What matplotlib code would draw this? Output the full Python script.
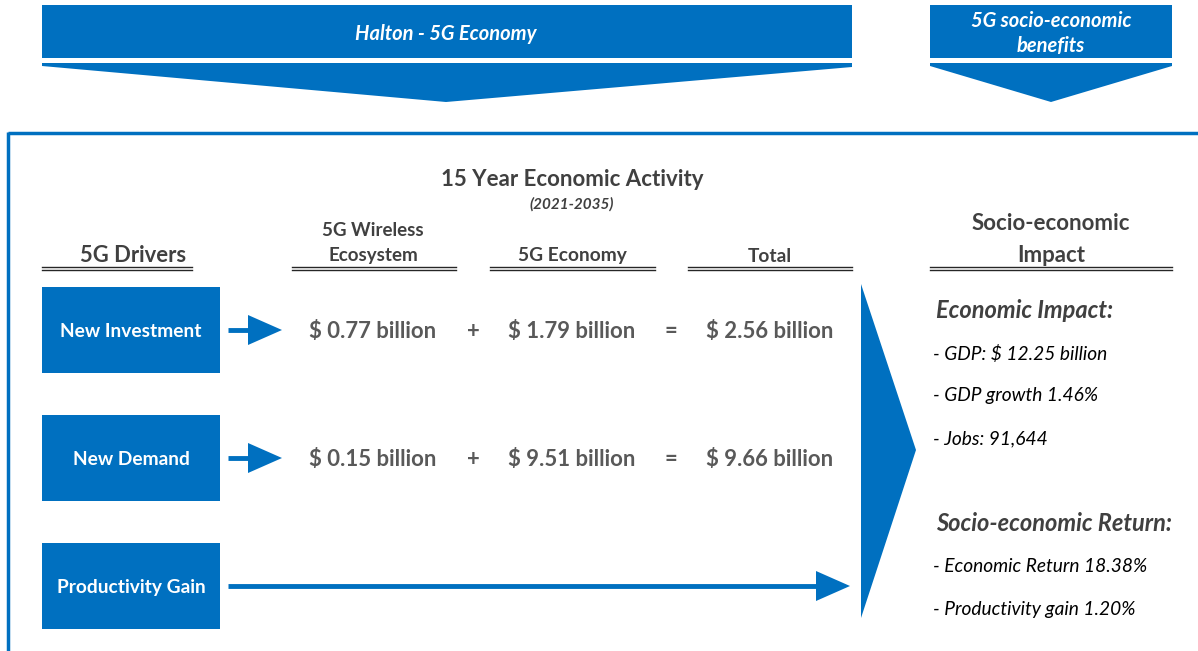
import matplotlib
matplotlib.use("Agg")
import matplotlib.pyplot as plt
from matplotlib.patches import Rectangle, Polygon

plt.rcParams['font.family'] = ['Lato', 'DejaVu Sans']

# ---- data ----
drivers = ["New Investment", "New Demand", "Productivity Gain"]
wireless_vals = ["$ 0.77 billion", "$ 0.15 billion"]
economy_vals = ["$ 1.79 billion", "$ 9.51 billion"]
total_vals = ["$ 2.56 billion", "$ 9.66 billion"]
col_headers = ["5G Drivers", "5G Wireless\nEcosystem", "5G Economy", "Total"]
econ_impact = ["- GDP: $ 12.25 billion", "- GDP growth 1.46%", "- Jobs: 91,644"]
socio_return = ["- Economic Return 18.38%", "- Productivity gain 1.20%"]

BLUE = "#0070C0"
GREY = "#595959"
DARK = "#404040"

fig = plt.figure(figsize=(11.98, 6.51), dpi=100)
ax = fig.add_axes([0, 0, 1, 1])
ax.set_xlim(0, 1198)
ax.set_ylim(651, 0)
ax.axis('off')

# top banners + chevrons
ax.add_patch(Rectangle((42, 5), 810, 53, color=BLUE, lw=0))
ax.add_patch(Polygon([(42, 63), (852, 63), (852, 67), (446, 102), (42, 66)], color=BLUE, lw=0))
ax.text(446, 34, "Halton - 5G Economy", color="white", fontsize=14.5, fontweight="bold",
        style="italic", ha="center", va="center")
ax.add_patch(Rectangle((930, 5), 242, 53, color=BLUE, lw=0))
ax.add_patch(Polygon([(930, 63), (1172, 63), (1172, 66), (1051, 102), (930, 66)], color=BLUE, lw=0))
ax.text(1051, 21, "5G socio-economic", color="white", fontsize=14.5, fontweight="bold",
        style="italic", ha="center", va="center")
ax.text(1051, 46, "benefits", color="white", fontsize=14.5, fontweight="bold",
        style="italic", ha="center", va="center")

# frame
ax.plot([8, 1198], [133, 133], color=BLUE, lw=2.5, solid_capstyle="butt")
ax.plot([8, 8], [132, 651], color=BLUE, lw=2.5, solid_capstyle="butt")

# titles
ax.text(572, 180, "15 Year Economic Activity", color=DARK, fontsize=16, fontweight="bold",
        ha="center", va="center")
ax.text(572, 204, "(2021-2035)", color=DARK, fontsize=11, fontweight="bold", style="italic",
        ha="center", va="center")

def underline(x0, x1):
    ax.plot([x0, x1], [266.5, 266.5], color="#262626", lw=1.0)
    ax.plot([x0, x1], [270, 270], color="#262626", lw=1.0)

col_x = [133, 373, 572, 770]
col_span = [(42, 192), (292, 456), (490, 655), (688, 852)]
col_size = [15.8, 13.5, 13.8, 13.8]
for i, h in enumerate(col_headers):
    lines = h.split("\n")
    for k, line in enumerate(reversed(lines)):
        ax.text(col_x[i], 256 - 26 * k, line, color=DARK, fontsize=col_size[i], fontweight="bold",
                ha="center", va="center")
    underline(*col_span[i])

ax.text(1051, 223, "Socio-economic", color=DARK, fontsize=16, fontweight="bold",
        ha="center", va="center")
ax.text(1051, 255, "Impact", color=DARK, fontsize=16, fontweight="bold",
        ha="center", va="center")
underline(930, 1172)

# driver boxes and arrows
row_y = [330, 458, 586]
for i, d in enumerate(drivers):
    y = row_y[i]
    ax.add_patch(Rectangle((42, y - 43), 178, 86, color=BLUE, lw=0))
    ax.text(131, y + 1.5, d, color="white", fontsize=13.8, fontweight="bold", ha="center", va="center")
    end = 282 if i < 2 else 850
    ax.plot([228, end - 30], [y, y], color=BLUE, lw=3.5, solid_capstyle="butt")
    ax.add_patch(Polygon([(end - 34, y - 15), (end, y), (end - 34, y + 15)], color=BLUE, lw=0))

for i in range(len(wireless_vals)):
    y = row_y[i] + 1.5
    for x, s in zip([373, 473, 572, 671, 770],
                    [wireless_vals[i], "+", economy_vals[i], "=", total_vals[i]]):
        ax.text(x, y, s, color=GREY, fontsize=15.9, fontweight="bold", ha="center", va="center")

# big chevron
ax.add_patch(Polygon([(861, 284), (916, 450), (861, 618)], color=BLUE, lw=0))

# right-hand impact text
ax.text(936, 310.5, "Economic Impact:", color=DARK, fontsize=17, fontweight="bold",
        style="italic", ha="left", va="center")
for j, s in enumerate(econ_impact):
    ax.text(933, 353.5 + 42.5 * j, s, color="black", fontsize=13.8, style="italic",
            ha="left", va="center")
ax.text(936, 523.5, "Socio-economic Return:", color=DARK, fontsize=17, fontweight="bold",
        style="italic", ha="left", va="center")
for j, s in enumerate(socio_return):
    ax.text(933, 566.5 + 42.5 * j, s, color="black", fontsize=13.8, style="italic",
            ha="left", va="center")

fig.savefig("out.png", dpi=100)
